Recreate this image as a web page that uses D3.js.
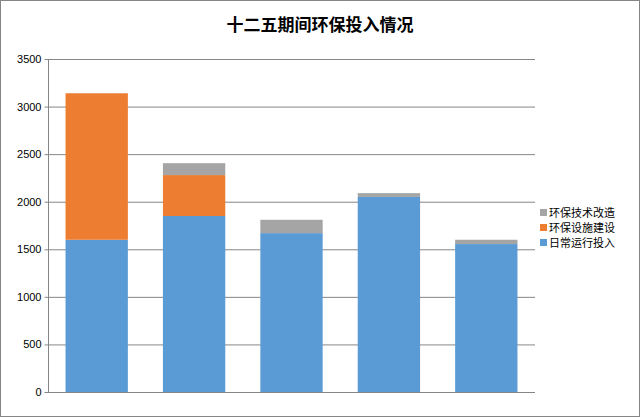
<!DOCTYPE html>
<html><head><meta charset="utf-8">
<script src="https://cdn.jsdelivr.net/npm/d3@7"></script>
<style>body{margin:0;background:#fff;font-family:"Noto Sans CJK SC",sans-serif}</style>
</head><body>
<svg id="c" width="640" height="417"></svg>
<script>
var categories = ["1", "2", "3", "4", "5"];
var daily = [1600, 1850, 1670, 2050, 1555];
var build = [1540, 430, 0, 0, 0];
var tech = [0, 125, 140, 40, 45];
var yTicks = [0, 500, 1000, 1500, 2000, 2500, 3000, 3500];
var seriesNames = ["日常运行投入", "环保设施建设", "环保技术改造"];
var colors = ["#5b9bd5", "#ed7d31", "#a5a5a5"];

var svg = d3.select("#c");
svg.append("rect").attr("x", 0.5).attr("y", 0.5).attr("width", 639).attr("height", 416)
    .attr("fill", "#fff").attr("stroke", "#868686");

var x = d3.scaleBand().domain(categories).range([48, 535]).paddingInner(0.36).paddingOuter(0.18);
var y = d3.scaleLinear().domain([0, 3500]).range([392, 59]);

svg.append("g").selectAll("line").data(yTicks).join("line")
    .attr("x1", 48).attr("x2", 535).attr("y1", d => y(d) + 0.5).attr("y2", d => y(d) + 0.5)
    .attr("stroke", "#868686");
svg.append("line").attr("x1", 48.5).attr("x2", 48.5).attr("y1", 59).attr("y2", 392).attr("stroke", "#868686");

var yAxis = d3.axisLeft(y).tickValues(yTicks).tickSize(4).tickFormat(d3.format("d"));
var ga = svg.append("g").attr("transform", "translate(48.5,0)").call(yAxis);
ga.select(".domain").remove();
ga.selectAll("line").attr("stroke", "#868686");
ga.selectAll("text").attr("font-size", 11).attr("fill", "#000").attr("font-family", "Liberation Sans, sans-serif");

var data = categories.map((c, i) => ({ c: c, v: [daily[i], build[i], tech[i]] }));
var stack = d3.stack().keys([0, 1, 2]).value((d, k) => d.v[k])(data);
svg.append("g").selectAll("g").data(stack).join("g").attr("fill", (d, i) => colors[i])
    .selectAll("rect").data(d => d).join("rect")
    .attr("x", d => x(d.data.c)).attr("width", x.bandwidth())
    .attr("y", d => y(d[1])).attr("height", d => y(d[0]) - y(d[1]));

svg.append("text").attr("x", 320).attr("y", 31).attr("text-anchor", "middle")
    .attr("font-size", 17).attr("font-weight", "bold").text("十二五期间环保投入情况");

var leg = svg.append("g");
[2, 1, 0].forEach(function (k, i) {
    var yy = 213 + i * 15;
    leg.append("rect").attr("x", 540).attr("y", yy - 4).attr("width", 7).attr("height", 7).attr("fill", colors[k]);
    leg.append("text").attr("x", 549).attr("y", yy + 4).attr("font-size", 11).text(seriesNames[k]);
});
</script>
</body></html>
